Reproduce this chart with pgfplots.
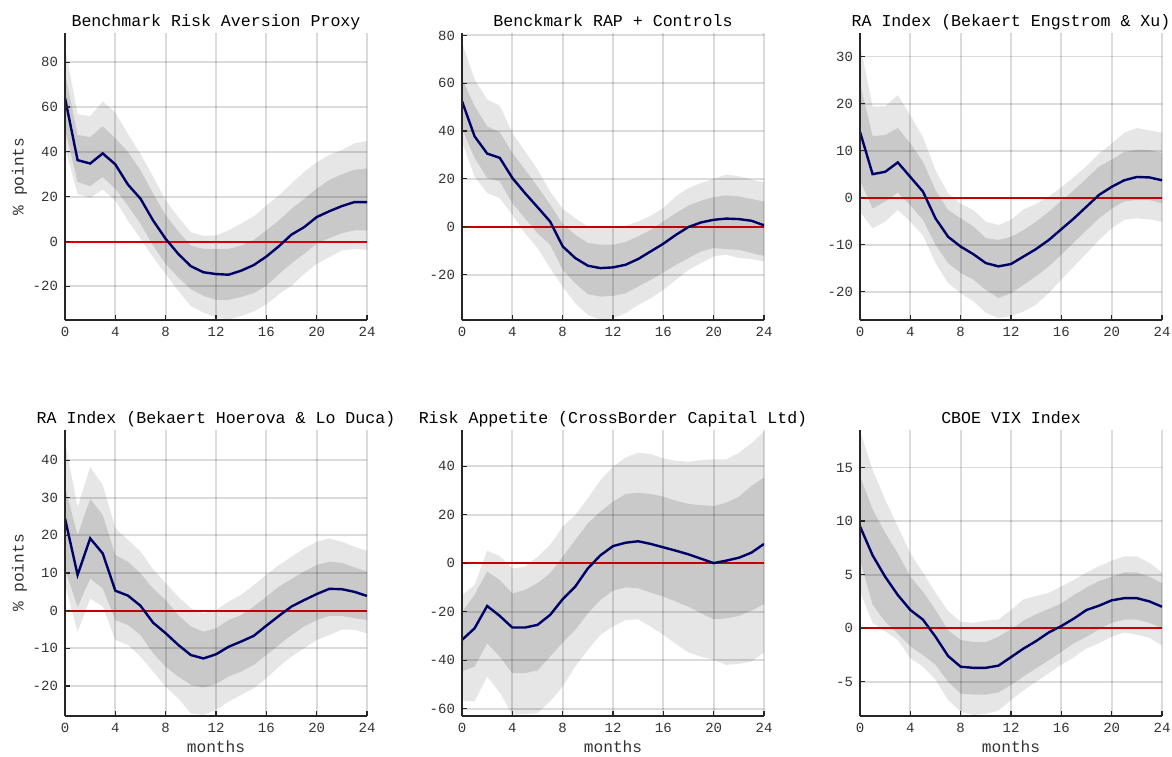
\documentclass[border=0pt]{standalone}
\usepackage{fontspec}
\setmainfont{Liberation Mono}
\usepackage{pgfplots}
\usepgfplotslibrary{fillbetween}
\usepackage{pgfplotstable}
\pgfplotsset{compat=1.18}

\definecolor{bandout}{RGB}{230,230,230}
\definecolor{bandin}{RGB}{201,201,201}
\definecolor{irfblue}{RGB}{0,0,105}
\definecolor{zred}{RGB}{228,0,0}

% columns: month, median, outer upper, inner upper, inner lower, outer lower
\pgfplotstableread{
m med ou iu il ol
0 64 87 75 50 42
1 36.3 56.8 47.5 26.6 21.2
2 34.8 56 46.6 24.7 19.5
3 39.3 62.5 51.4 28.8 23.2
4 34.4 57.5 46 23.5 18.3
5 25.4 48 40 16 9.4
6 19.1 39 31.8 8 1.2
7 9.4 29 21.4 -1.8 -7
8 1.2 18.4 11.7 -10 -14.5
9 -5.5 11 4.5 -16 -22
10 -11 4.2 -1.8 -21.2 -28.7
11 -13.7 2.5 -3.3 -24.2 -31.7
12 -14.5 2.7 -3.3 -26 -34
13 -14.8 5 -3.3 -26 -34.7
14 -13 8 -1.8 -24.7 -33.2
15 -10.5 11.2 0.7 -23 -31.2
16 -6.7 16 5 -19.7 -28
17 -2.1 20.6 9.4 -14.5 -23.5
18 3.1 25.9 14.6 -9.7 -19.7
19 6.4 31 19 -5.5 -14.5
20 10.9 35.3 23.6 -1 -10
21 13.5 38.6 27.4 1.5 -7
22 15.8 40.8 30 3.7 -4
23 17.6 43.8 32 5 -3.3
24 17.6 44.8 32.6 5 -3.7
}\tA

\pgfplotstableread{
m med ou iu il ol
0 52.5 77 62 41 35.5
1 37.8 61.6 50.4 28.8 21
2 30.6 53.2 42 20.4 14.1
3 28.8 50.7 39.5 19 12
4 20.4 39.2 30.9 9.9 5
5 14.1 31.6 23.9 3.6 -2.7
6 8.2 23.9 16.9 -2.7 -8.9
7 2.2 14.8 9.2 -7.5 -17.3
8 -8.2 7.4 1.1 -18 -25
9 -13.1 3.6 -3.4 -23.6 -32
10 -16.3 0.1 -6.8 -28.2 -36.9
11 -17.3 -0.3 -7.5 -29.2 -39
12 -17 -0.3 -7.5 -28.9 -38.3
13 -15.9 0.4 -6.4 -27.8 -36.2
14 -13.5 2.2 -4 -25 -32.7
15 -10.3 4.6 -1.3 -22.2 -29.9
16 -7.1 7.8 2.2 -19.1 -26.4
17 -3.4 12.7 5.7 -15.9 -22.2
18 -0.1 16.2 8.8 -13.1 -18
19 1.8 18.3 10.9 -10.3 -15.2
20 2.9 20 12.4 -8.9 -12.4
21 3.4 21.8 13.1 -9.4 -11.7
22 3.2 21.1 12.7 -9.6 -13.1
23 2.5 19.7 11.6 -11 -13.5
24 0.6 18.6 10.5 -12.2 -14.5
}\tB

\pgfplotstableread{
m med ou iu il ol
0 14 32.7 24.2 3.7 -3
1 5 19.4 13.1 -2.3 -6.5
2 5.5 19.4 13.3 -0.8 -5.1
3 7.5 21.8 14.8 1.1 -2.6
4 4.4 17.5 11.5 -1.6 -5.1
5 1.3 12.9 7.6 -4.7 -8
6 -4.4 5.8 1.6 -10 -13.9
7 -8.3 0.9 -2.6 -13.9 -18.1
8 -10.4 -1.3 -4.4 -16 -20.3
9 -12 -2.6 -6.1 -17.4 -22
10 -13.9 -5.1 -8.6 -19.6 -24.5
11 -14.6 -5.8 -9 -21.3 -25.6
12 -14.1 -4.7 -8.3 -20.3 -25.2
13 -12.5 -2.5 -6.9 -18.5 -24.2
14 -10.9 -1.3 -5.1 -16.7 -22.7
15 -9 0.2 -3 -14.6 -20.3
16 -6.7 2.2 -0.7 -12.1 -17.4
17 -4.4 4.4 1.6 -9.5 -14.6
18 -1.9 6.7 4.1 -6.9 -11.8
19 0.6 9.4 6.6 -4.4 -9
20 2.3 11.5 8.1 -2.3 -6.5
21 3.7 13.8 9.7 -0.8 -4.7
22 4.4 14.8 10.2 -0.5 -4.4
23 4.3 14.3 10.1 -0.5 -4.6
24 3.7 13.8 9.5 -1.2 -5.1
}\tC

\pgfplotstableread{
m med ou iu il ol
0 24.5 45 33 11 7
1 9.5 27.5 20 1 -5.7
2 19.2 38.2 29.7 8.5 3.2
3 15.2 33.4 25.4 5.9 1.1
4 5.3 21.9 14.8 -2.5 -7.8
5 4 18.8 13 -3.8 -9.1
6 1.3 15.7 9.9 -6.5 -12.2
7 -3.2 11 5.9 -11.3 -16.2
8 -6 7.3 2.8 -14.9 -20.2
9 -9.1 3.7 -1.2 -17.5 -23.3
10 -11.8 0.6 -4.2 -19.7 -27.3
11 -12.7 -0.7 -5.6 -20.4 -27.7
12 -11.6 0.2 -4.7 -19.5 -26.4
13 -9.6 2.4 -2.5 -17.5 -24.2
14 -8.2 4.2 -1.2 -16.2 -22.4
15 -6.7 6.8 1.1 -14.4 -20.6
16 -4 9.5 3.7 -11.8 -18
17 -1.4 12.1 6.4 -9.1 -14.9
18 1.1 14.3 8.4 -6.5 -12.2
19 2.8 16.5 10.4 -4.2 -10
20 4.4 18.3 12.1 -2.5 -7.8
21 5.8 19.2 13 -1.4 -6.5
22 5.7 18.3 12.7 -1.4 -5
23 5 17 11.5 -2 -5.1
24 3.9 15.9 10.4 -2.5 -6
}\tD

\pgfplotstableread{
m med ou iu il ol
0 -31.6 -13 -20 -44.6 -56.6
1 -26.8 -9 -13 -42.6 -57
2 -17.6 5.2 -3.4 -33 -46.7
3 -21.7 3 -6.9 -38.5 -53.3
4 -26.5 -2.1 -12.4 -45.3 -62.5
5 -26.5 -1.4 -11 -45.3 -62.2
6 -25.4 2.7 -8.2 -44.2 -61.8
7 -21.3 7.6 -4.1 -38.5 -57
8 -14.8 15.1 2.7 -32.7 -50.8
9 -9.6 19.9 9.6 -27.5 -42.6
10 -2.1 26.8 16.5 -20.6 -35.7
11 3.3 34.3 21.3 -15.1 -29.5
12 7.1 39.8 25.4 -11.3 -26.1
13 8.5 43.7 28.6 -9.9 -23.4
14 9.1 45.6 29.1 -10.3 -23.1
15 8 45 28.6 -12.1 -26.1
16 6.6 43.3 27.5 -13.7 -29.5
17 5.2 42.3 25.8 -15.8 -33.2
18 3.7 41.9 24.5 -17.9 -36.8
19 1.9 42.6 24 -20.6 -38.5
20 0.1 42.9 23.6 -23.1 -39.8
21 1.1 42.9 25 -22.7 -41.9
22 2.3 45.6 27.5 -21.7 -41.5
23 4.4 49.5 31.9 -19.5 -40.5
24 8 54.3 35.4 -16.8 -36.8
}\tE

\pgfplotstableread{
m med ou iu il ol
0 9.5 18.4 14.2 6.4 3.4
1 6.8 14.8 11.1 2.2 0.5
2 4.8 12 8.9 0.6 -0.3
3 3.1 9.5 7 -0.5 -1.1
4 1.7 7 4.8 -1.7 -2.8
5 0.8 5.2 3.4 -2.5 -3.6
6 -0.8 3.3 1.7 -3.4 -4.8
7 -2.6 1.6 -0.2 -5 -6.7
8 -3.6 0.6 -1.1 -6.1 -7.8
9 -3.7 0.5 -1.3 -6.2 -8.1
10 -3.7 0.7 -1.3 -6.2 -8
11 -3.5 0.8 -0.8 -6 -7.7
12 -2.7 1.7 -0.1 -5.3 -6.7
13 -1.9 2.7 0.7 -4.5 -5.8
14 -1.2 3 1.3 -3.75 -5
15 -0.4 3.3 1.8 -3 -4.2
16 0.2 3.9 2.3 -2.2 -3.4
17 0.9 4.5 3.1 -1.4 -2.7
18 1.7 5.2 3.8 -0.8 -1.9
19 2.1 5.8 4.4 -0.1 -1.4
20 2.6 6.3 4.8 0.5 -0.8
21 2.8 6.7 5.2 0.8 -0.4
22 2.8 6.7 5.2 0.8 -0.6
23 2.5 6.1 4.8 0.5 -0.9
24 2 5.2 4.2 0 -1.6
}\tF

\pgfplotsset{
  irf/.style={
    scale only axis, width=151pt,
    xmin=0, xmax=24, xtick={0,4,...,24},
    axis x line*=bottom, axis y line*=left,
    axis line style={black!85, line width=0.9pt},
    tick align=inside, major tick length=2.5pt,
    tick style={black!85, line width=0.6pt},
    grid=major, grid style={black, opacity=0.14, line width=0.95pt},
    axis on top,
    /pgf/number format/assume math mode=true,
    ticklabel style={font=\fontsize{7}{8}\selectfont, text=black!80},
    title style={font=\fontsize{8.3}{10}\selectfont, at={(0.5,1)}, anchor=base, yshift=-2.8pt},
    label style={font=\fontsize{8.1}{10}\selectfont, text=black!80},
    xlabel shift=-3pt, ylabel shift=-4pt,
  },
}

% bands, median and zero line for one panel
\newcommand{\irfplots}[2]{%
  \addplot[name path=ou#2, draw=none] table[x=m, y=ou] {#1};
  \addplot[name path=ol#2, draw=none] table[x=m, y=ol] {#1};
  \addplot[fill=bandout, draw=none] fill between[of=ou#2 and ol#2];
  \addplot[name path=iu#2, draw=none] table[x=m, y=iu] {#1};
  \addplot[name path=il#2, draw=none] table[x=m, y=il] {#1};
  \addplot[fill=bandin, draw=none] fill between[of=iu#2 and il#2];
  \addplot[zred, line width=1pt] coordinates {(0,0) (24,0)};
  \addplot[irfblue, line width=1.2pt] table[x=m, y=med] {#1};
}

\begin{document}
\begin{tikzpicture}

\begin{axis}[irf, at={(32.5pt,-160pt)}, anchor=south west, height=143.5pt,
  ymin=-35, ymax=93, ytick={-20,0,...,80},
  title={Benchmark Risk Aversion Proxy}, ylabel={\% points}]
\irfplots{\tA}{a}
\end{axis}

\begin{axis}[irf, at={(231pt,-160pt)}, anchor=south west, height=143.5pt,
  ymin=-39, ymax=81, ytick={-20,0,...,80},
  title={Benckmark RAP + Controls}]
\irfplots{\tB}{b}
\end{axis}

\begin{axis}[irf, at={(430pt,-160pt)}, anchor=south west, height=143.5pt,
  ymin=-26, ymax=35, ytick={-20,-10,...,30},
  title={RA Index (Bekaert Engstrom \& Xu)}]
\irfplots{\tC}{c}
\end{axis}

\begin{axis}[irf, at={(32.5pt,-358pt)}, anchor=south west, height=143pt,
  ymin=-28, ymax=48, ytick={-20,-10,...,40},
  title={RA Index (Bekaert Hoerova \& Lo Duca)}, ylabel={\% points}, xlabel={months}]
\irfplots{\tD}{d}
\end{axis}

\begin{axis}[irf, at={(231pt,-358pt)}, anchor=south west, height=143pt,
  ymin=-63, ymax=55, ytick={-60,-40,...,40},
  title={Risk Appetite (CrossBorder Capital Ltd)}, xlabel={months}]
\irfplots{\tE}{e}
\end{axis}

\begin{axis}[irf, at={(430pt,-358pt)}, anchor=south west, height=143pt,
  ymin=-8.2, ymax=18.5, ytick={-5,0,...,15},
  title={CBOE VIX Index}, xlabel={months}]
\irfplots{\tF}{f}
\end{axis}

\pgfresetboundingbox
\path[use as bounding box] (0,0) rectangle (586pt,-378pt);
\end{tikzpicture}
\end{document}
